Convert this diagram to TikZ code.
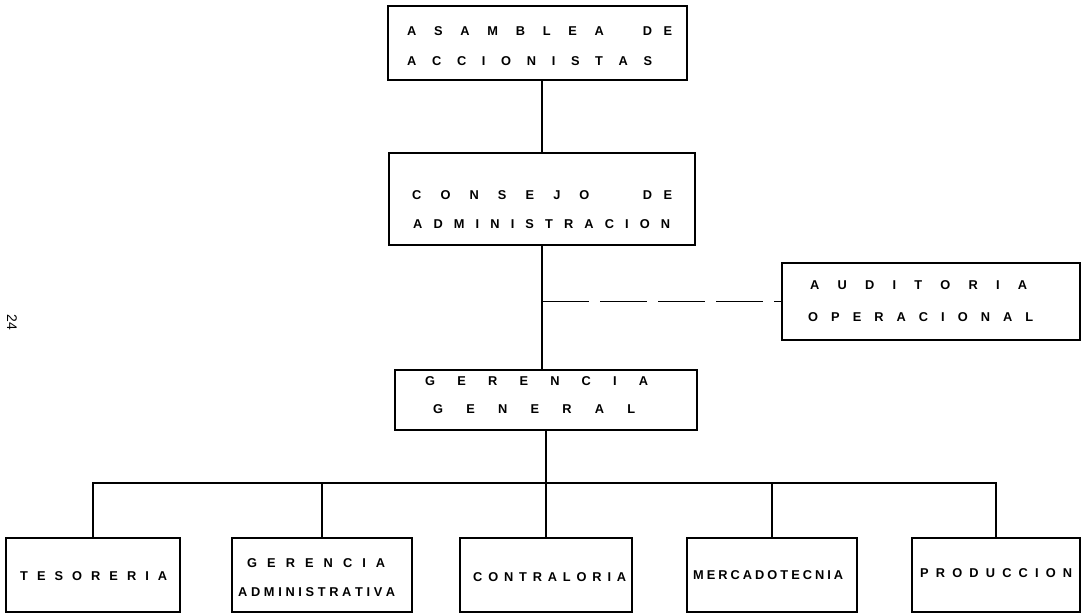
\documentclass[tikz,border=0pt]{standalone}
\usepackage{fontspec}
\setmainfont{Liberation Sans}
% letter gap and wider word gap inside a spread line
\newcommand\ks{\hfill}
\newcommand\kw[1]{\hspace{\stretch{#1}}}
% a line of text spread to a fixed width
\newcommand\spreadline[2]{\makebox[#1pt][s]{#2}}
\begin{document}
\begin{tikzpicture}[x=1pt,y=-1pt,
  box/.style={draw, line width=1.3pt, inner sep=0pt},
  lbl/.style={anchor=west, inner sep=0pt, font=\fontsize{12.8}{12.8}\selectfont\bfseries},
  conn/.style={line width=1.3pt},
  dashline/.style={line width=1.3pt, dash pattern=on 47pt off 11pt}]
\useasboundingbox (0,0) rectangle (1085,614);

% boxes
\node[box, minimum width=299pt, minimum height=74pt] (asamblea) at (537.5,43) {};
\node[box, minimum width=306pt, minimum height=92pt] (consejo) at (542,199) {};
\node[box, minimum width=298pt, minimum height=77pt] (auditoria) at (931,301.5) {};
\node[box, minimum width=302pt, minimum height=60pt] (gerencia) at (546,400) {};
\node[box, minimum width=174pt, minimum height=74pt] (tesoreria) at (93,575) {};
\node[box, minimum width=180pt, minimum height=74pt] (gadmin) at (322,575) {};
\node[box, minimum width=172pt, minimum height=74pt] (contraloria) at (546,575) {};
\node[box, minimum width=170pt, minimum height=74pt] (mercado) at (772,575) {};
\node[box, minimum width=168pt, minimum height=74pt] (produccion) at (996,575) {};

% texts
\node[lbl] (asamblea1) at (407,31) {\spreadline{265}{A\ks S\ks A\ks M\ks B\ks L\ks E\ks A\kw{2.2}D\kw{0.65}E}};
\node[lbl] (asamblea2) at (407,61) {\spreadline{245}{A\ks C\ks C\ks I\ks O\ks N\ks I\ks S\ks T\ks A\ks S}};
\node[lbl] (consejo1) at (412,195) {\spreadline{260}{C\ks O\ks N\ks S\ks E\ks J\ks O\kw{2.8}D\kw{0.6}E}};
\node[lbl] (consejo2) at (413,224) {\spreadline{257}{A\ks D\ks M\ks I\ks N\ks I\ks S\ks T\ks R\ks A\ks C\ks I\ks O\ks N}};
\node[lbl] (auditoria1) at (810,285) {\spreadline{217}{A\ks U\ks D\ks I\ks T\ks O\ks R\ks I\ks A}};
\node[lbl] (auditoria2) at (808,317) {\spreadline{225}{O\ks P\ks E\ks R\ks A\ks C\ks I\ks O\ks N\ks A\ks L}};
\node[lbl] (gerencia1) at (425,381) {\spreadline{223}{G\ks E\ks R\ks E\ks N\ks C\ks I\ks A}};
\node[lbl] (gerencia2) at (433,409) {\spreadline{202}{G\ks E\ks N\ks E\ks R\ks A\ks L}};
\node[lbl] (tesoreria1) at (20,576) {\spreadline{147}{T\ks E\ks S\ks O\ks R\ks E\ks R\ks I\ks A}};
\node[lbl] (gadmin1) at (247,563) {\spreadline{138}{G\ks E\ks R\ks E\ks N\ks C\ks I\ks A}};
\node[lbl] (gadmin2) at (238,592) {\spreadline{157}{A\ks D\ks M\ks I\ks N\ks I\ks S\ks T\ks R\ks A\ks T\ks I\ks V\ks A}};
\node[lbl] (contraloria1) at (473,577) {\spreadline{153}{C\ks O\ks N\ks T\ks R\ks A\ks L\ks O\ks R\ks I\ks A}};
\node[lbl] (mercado1) at (693,575) {\spreadline{150}{M\ks E\ks R\ks C\ks A\ks D\ks O\ks T\ks E\ks C\ks N\ks I\ks A}};
\node[lbl] (produccion1) at (920,573) {\spreadline{152}{P\ks R\ks O\ks D\ks U\ks C\ks C\ks I\ks O\ks N}};

% page number
\node[rotate=-90, inner sep=0pt, font=\fontsize{14}{14}\selectfont] (folio) at (12,322) {24};

% connectors
\coordinate (spine) at (542,0);
\coordinate (tap) at (542,301.5);
\coordinate (bus) at (546,483);
\draw[conn] (asamblea.south -| spine) -- (consejo.north -| spine);
\draw[conn] (consejo.south -| spine) -- (gerencia.north -| spine);
\draw[dashline] (tap) -- (auditoria.west);
\draw[conn] (gerencia.south -| bus) -- (bus);
\draw[conn] (tesoreria.north) -- (tesoreria.north |- bus) -- (produccion.north |- bus) -- (produccion.north);
\draw[conn] (gadmin.north |- bus) -- (gadmin.north);
\draw[conn] (contraloria.north |- bus) -- (contraloria.north);
\draw[conn] (mercado.north |- bus) -- (mercado.north);
\end{tikzpicture}
\end{document}
